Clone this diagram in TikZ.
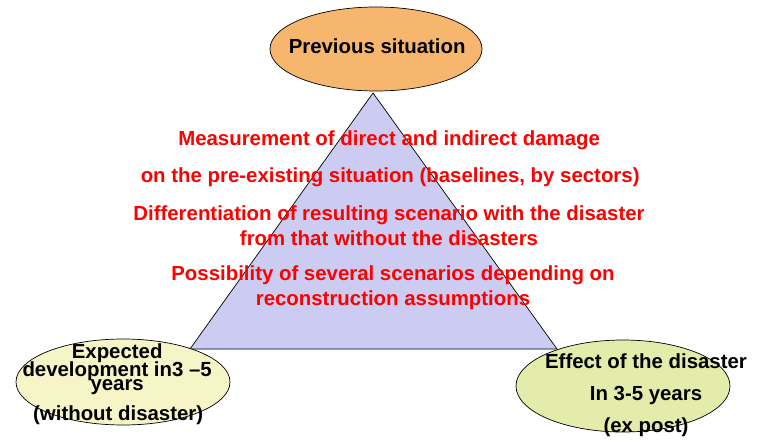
\documentclass[tikz,border=0pt]{standalone}
\usepackage{fontspec}
\setmainfont{Liberation Sans}
\definecolor{prevfill}{RGB}{247,182,110}
\definecolor{devfill}{RGB}{245,245,200}
\definecolor{effill}{RGB}{228,236,172}
\definecolor{trifill}{RGB}{204,204,242}
\tikzset{
  bubble/.style={ellipse, draw=black, line width=0.7pt, inner sep=0pt},
  txt/.style={font=\bfseries\fontsize{20.4}{25}\selectfont, align=center, inner sep=0pt},
  redtxt/.style={txt, text=red}
}
\usetikzlibrary{shapes.geometric}
\begin{document}
\begin{tikzpicture}[x=1pt, y=-1pt]
                \useasboundingbox[fill=white] (0,0) rectangle (765,441);

                \coordinate (apex) at (373, 93);
                \coordinate (left) at (190, 349);
                \coordinate (right) at (557, 349);
                \draw[fill=trifill, line width=0.7pt] (apex) -- (left) -- (right) -- cycle;

                \node[bubble, fill=prevfill, minimum width=212pt, minimum height=84pt] (prev) at (376, 49) {};
                \node[bubble, fill=devfill, minimum width=214pt, minimum height=86pt] (dev) at (123, 382) {};
                \node[bubble, fill=effill, minimum width=214pt, minimum height=92pt] (eff) at (623, 386) {};

                \node[txt] (prevtxt) at (380, 46) { Previous situation };
                \node[txt] (dev1) at (120, 353) { Expected };
                \node[txt] (dev2) at (120, 371) { development in3 –5 };
                \node[txt] (dev3) at (120, 387) { years };
                \node[txt] (dev4) at (121, 415) { (without disaster) };
                \node[txt, font=\bfseries\fontsize{20.4}{32}\selectfont] (efftxt) at (646, 395) { Effect of the disaster\\ In 3-5 years\\ (ex post) };

                \node[redtxt] (m1) at (392, 140) { Measurement of direct and indirect damage };
                \node[redtxt] (m2) at (393, 177) { on the pre-existing situation (baselines, by sectors) };
                \node[redtxt] (m3) at (389, 225.5) { Differentiation of resulting scenario with the disaster\\ from that without the disasters };
                \node[redtxt] (m4) at (393, 287.5) { Possibility of several scenarios depending on\\ reconstruction assumptions };
            \end{tikzpicture}
\end{document}
